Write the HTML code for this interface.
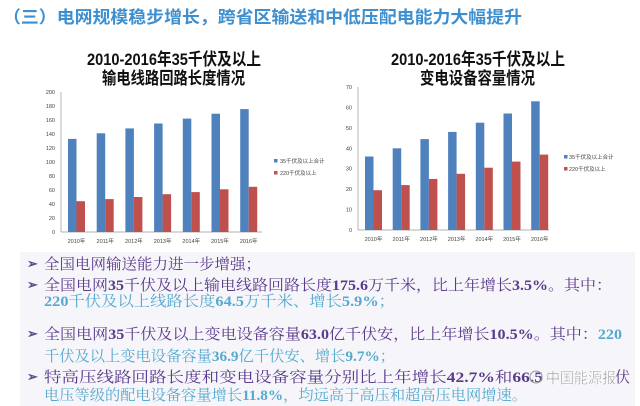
<!DOCTYPE html>
<html><head><meta charset="utf-8"><style>
html,body{margin:0;padding:0;background:#fff;}
svg{display:block;font-family:"Liberation Sans","Noto Sans CJK SC",sans-serif;}
.t{font-family:"Liberation Serif","Noto Serif CJK SC","Noto Sans CJK SC",serif;font-size:15px;}
.p{fill:#5b3a8c;}
.c{fill:#56a9cf;}
.ax{font-size:5.5px;fill:#444;}
</style></head><body>
<svg width="640" height="406" viewBox="0 0 640 406">
<rect width="640" height="406" fill="#fff"/>
<!-- panels -->
<rect x="20" y="252" width="615" height="154" fill="#f6f6fa"/>
<!-- title -->
<text x="3" y="23" font-size="17" font-weight="bold" fill="#3d8fcf" textLength="519" lengthAdjust="spacingAndGlyphs">（三）电网规模稳步增长，跨省区输送和中低压配电能力大幅提升</text>

<!-- chart titles -->
<g font-size="17" font-weight="bold" fill="#111">
<text x="87" y="65" textLength="174" lengthAdjust="spacingAndGlyphs">2010-2016年35千伏及以上</text>
<text x="102" y="84" textLength="143" lengthAdjust="spacingAndGlyphs">输电线路回路长度情况</text>
<text x="391" y="65" textLength="174" lengthAdjust="spacingAndGlyphs">2010-2016年35千伏及以上</text>
<text x="420" y="84" textLength="115" lengthAdjust="spacingAndGlyphs">变电设备容量情况</text>
</g>

<!-- chart 1 -->
<g stroke="#999" stroke-width="0.7">
<line x1="61" y1="92" x2="61" y2="232"/><line x1="61" y1="232" x2="262" y2="232"/>
</g>
<g class="ax" text-anchor="end">
<text x="55" y="234">0</text><text x="55" y="220">20</text><text x="55" y="206">40</text><text x="55" y="192">60</text><text x="55" y="178">80</text><text x="55" y="164">100</text><text x="55" y="150">120</text><text x="55" y="136">140</text><text x="55" y="122">160</text><text x="55" y="108">180</text><text x="55" y="94">200</text>
</g>
<g fill="#4f81bd">
<rect x="68" y="138.9" width="8.5" height="93.1"/><rect x="96.7" y="133.3" width="8.5" height="98.7"/><rect x="125.4" y="128.4" width="8.5" height="103.6"/><rect x="154.1" y="123.5" width="8.5" height="108.5"/><rect x="182.8" y="118.6" width="8.5" height="113.4"/><rect x="211.5" y="113.7" width="8.5" height="118.3"/><rect x="240.2" y="109.1" width="8.5" height="122.9"/>
</g>
<g fill="#c0504d">
<rect x="76.5" y="201.2" width="8.5" height="30.8"/><rect x="105.2" y="199.1" width="8.5" height="32.9"/><rect x="133.9" y="197" width="8.5" height="35"/><rect x="162.6" y="194.2" width="8.5" height="37.8"/><rect x="191.3" y="192.1" width="8.5" height="39.9"/><rect x="220" y="189.3" width="8.5" height="42.7"/><rect x="248.7" y="186.8" width="8.5" height="45.2"/>
</g>
<g class="ax" text-anchor="middle">
<text x="76.5" y="243">2010年</text><text x="105.2" y="243">2011年</text><text x="133.9" y="243">2012年</text><text x="162.6" y="243">2013年</text><text x="191.3" y="243">2014年</text><text x="220" y="243">2015年</text><text x="248.7" y="243">2016年</text>
</g>
<rect x="274" y="159" width="3.5" height="3.5" fill="#4f81bd"/>
<text class="ax" x="280" y="163">35千伏及以上合计</text>
<rect x="274" y="171" width="3.5" height="3.5" fill="#c0504d"/>
<text class="ax" x="280" y="175">220千伏及以上</text>

<!-- chart 2 -->
<g stroke="#999" stroke-width="0.7">
<line x1="358" y1="87" x2="358" y2="230"/><line x1="358" y1="230" x2="549" y2="230"/>
</g>
<g class="ax" text-anchor="end">
<text x="352" y="232">0</text><text x="352" y="211.6">10</text><text x="352" y="191.1">20</text><text x="352" y="170.7">30</text><text x="352" y="150.3">40</text><text x="352" y="129.8">50</text><text x="352" y="109.4">60</text><text x="352" y="89">70</text>
</g>
<g fill="#4f81bd">
<rect x="365" y="156.5" width="8.5" height="73.5"/><rect x="392.7" y="148.3" width="8.5" height="81.7"/><rect x="420.4" y="139.1" width="8.5" height="90.9"/><rect x="448.1" y="131.9" width="8.5" height="98.1"/><rect x="475.8" y="122.7" width="8.5" height="107.3"/><rect x="503.5" y="113.5" width="8.5" height="116.5"/><rect x="531.2" y="101.3" width="8.5" height="128.7"/>
</g>
<g fill="#c0504d">
<rect x="373.5" y="190.2" width="8.5" height="39.8"/><rect x="401.2" y="185.1" width="8.5" height="44.9"/><rect x="428.9" y="178.9" width="8.5" height="51.1"/><rect x="456.6" y="173.8" width="8.5" height="56.2"/><rect x="484.3" y="167.7" width="8.5" height="62.3"/><rect x="512" y="161.6" width="8.5" height="68.4"/><rect x="539.7" y="154.6" width="8.5" height="75.4"/>
</g>
<g class="ax" text-anchor="middle">
<text x="373.5" y="241">2010年</text><text x="401.2" y="241">2011年</text><text x="428.9" y="241">2012年</text><text x="456.6" y="241">2013年</text><text x="484.3" y="241">2014年</text><text x="512" y="241">2015年</text><text x="539.7" y="241">2016年</text>
</g>
<rect x="564" y="155" width="3.5" height="3.5" fill="#4f81bd"/>
<text class="ax" x="569" y="159">35千伏及以上合计</text>
<rect x="564" y="167" width="3.5" height="3.5" fill="#c0504d"/>
<text class="ax" x="569" y="171">220千伏及以上</text>

<!-- bullets -->
<g fill="#5a4d8a" font-size="13" font-weight="bold">
<text x="27" y="268">➢</text><text x="27" y="289">➢</text><text x="27" y="338">➢</text><text x="27" y="381">➢</text>
</g>
<g class="t">
<text class="p" x="44" y="269" textLength="217" lengthAdjust="spacingAndGlyphs">全国电网输送能力进一步增强；</text>
<text class="p" x="44" y="290" textLength="568" lengthAdjust="spacingAndGlyphs">全国电网<tspan font-weight="bold">35</tspan>千伏及以上输电线路回路长度<tspan font-weight="bold">175.6</tspan>万千米，比上年增长<tspan font-weight="bold">3.5%</tspan>。其中：</text>
<text class="c" x="44" y="306" textLength="351" lengthAdjust="spacingAndGlyphs"><tspan font-weight="bold">220</tspan>千伏及以上线路长度<tspan font-weight="bold">64.5</tspan>万千米、增长<tspan font-weight="bold">5.9%</tspan>；</text>
<text class="p" x="44" y="339" textLength="578" lengthAdjust="spacingAndGlyphs">全国电网<tspan font-weight="bold">35</tspan>千伏及以上变电设备容量<tspan font-weight="bold">63.0</tspan>亿千伏安，比上年增长<tspan font-weight="bold">10.5%</tspan>。其中：<tspan class="c" font-weight="bold">220</tspan></text>
<text class="c" x="44" y="361" textLength="351" lengthAdjust="spacingAndGlyphs">千伏及以上变电设备容量<tspan font-weight="bold">36.9</tspan>亿千伏安、增长<tspan font-weight="bold">9.7%</tspan>；</text>
<text class="p" x="44" y="382" textLength="499" lengthAdjust="spacingAndGlyphs">特高压线路回路长度和变电设备容量分别比上年增长<tspan font-weight="bold">42.7%</tspan>和<tspan font-weight="bold">66.5</tspan></text>
<text class="p" x="615" y="382">伏</text>
<text class="c" x="44" y="400" textLength="483" lengthAdjust="spacingAndGlyphs">电压等级的配电设备容量增长<tspan font-weight="bold">11.8%</tspan>，均远高于高压和超高压电网增速。</text>
</g>
<!-- watermark -->
<circle cx="536" cy="377" r="6" fill="none" stroke="#999" stroke-width="1"/>
<text x="546" y="383" font-size="15" fill="#888" stroke="#fff" stroke-width="0.5" textLength="70" lengthAdjust="spacingAndGlyphs">中国能源报</text>
</svg>
</body></html>
